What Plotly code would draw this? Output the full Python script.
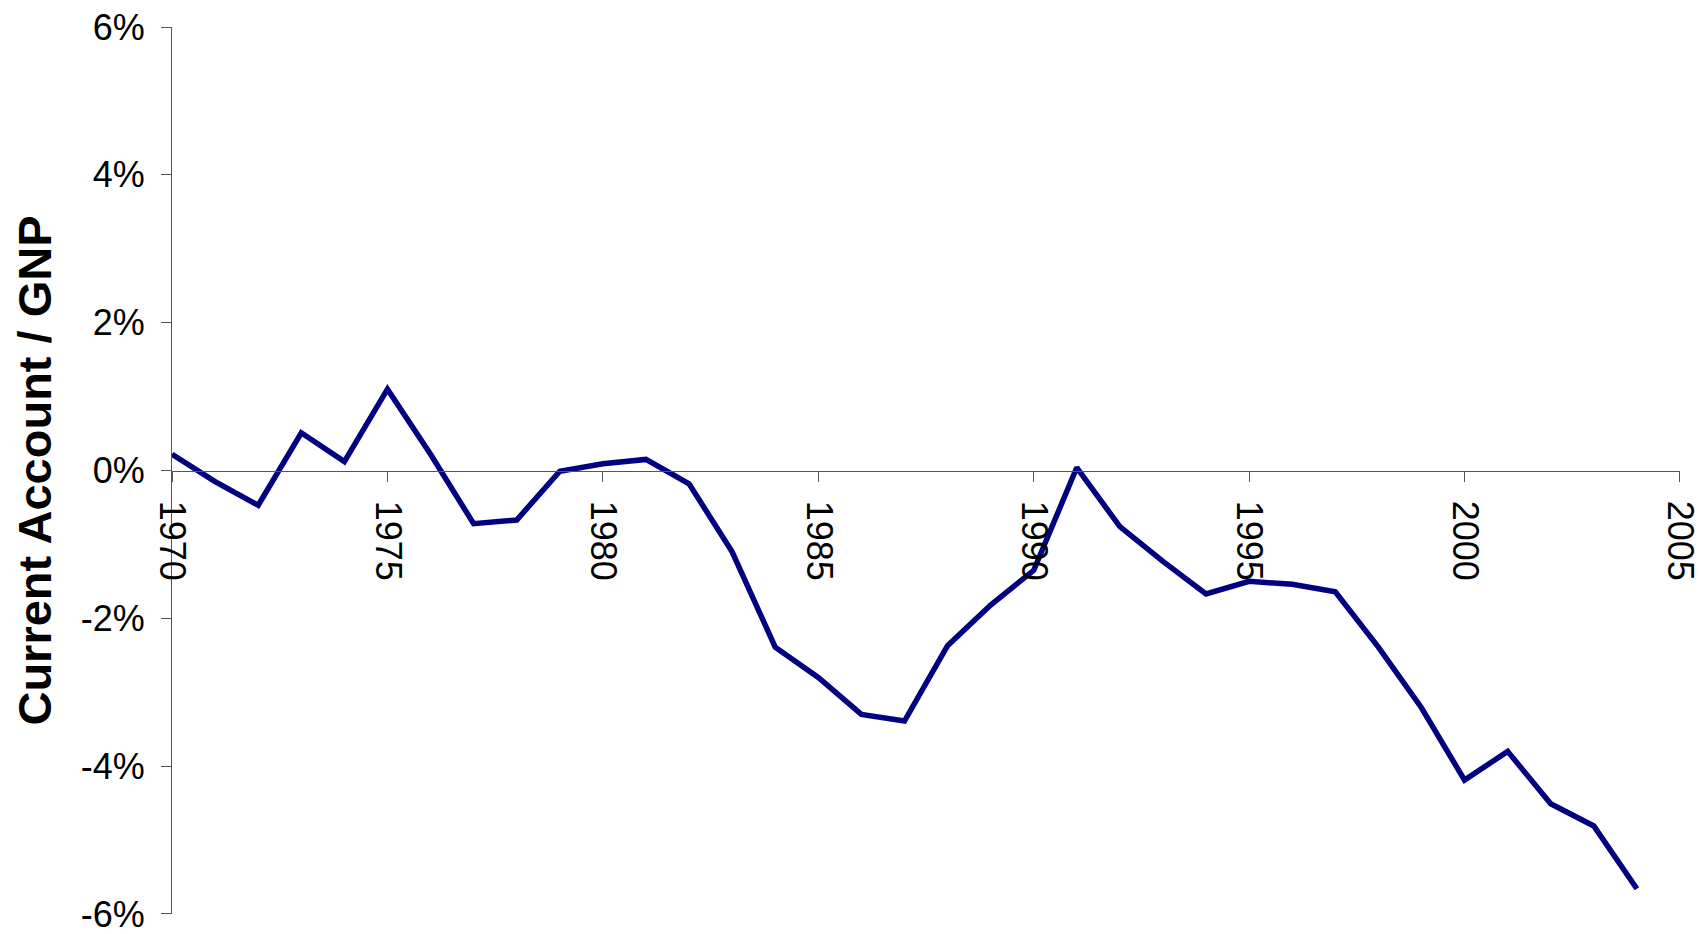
import plotly.graph_objects as go

years = list(range(1970, 2005))
ca_gnp = [0.22, -0.15, -0.47, 0.51, 0.12, 1.10, 0.22, -0.72, -0.67, -0.01,
          0.09, 0.15, -0.18, -1.10, -2.39, -2.80, -3.30, -3.39, -2.37, -1.82,
          -1.35, 0.04, -0.76, -1.23, -1.67, -1.50, -1.54, -1.64, -2.39, -3.21,
          -4.19, -3.80, -4.51, -4.81, -5.66]

y_tickvals = [-6, -4, -2, 0, 2, 4, 6]
y_ticktext = ["-6%", "-4%", "-2%", "0%", "2%", "4%", "6%"]
x_tickvals = [1970, 1975, 1980, 1985, 1990, 1995, 2000, 2005]

fig = go.Figure()
fig.add_trace(go.Scatter(
    x=years, y=ca_gnp, mode="lines",
    line=dict(color="#000080", width=5.5),
    showlegend=False,
))

axis_color = "#555555"
fig.update_layout(
    width=1700, height=934,
    margin=dict(l=172, r=20, t=27, b=20),
    paper_bgcolor="white", plot_bgcolor="white",
    font=dict(family="Liberation Sans, Arial, sans-serif", color="black"),
    xaxis=dict(
        range=[1969.999, 2005.001], tickvals=x_tickvals,
        tickangle=90, tickfont=dict(size=36),
        showgrid=False, zeroline=False,
        showline=True, linecolor=axis_color, linewidth=1,
        ticks="outside", ticklen=10, tickcolor=axis_color, tickwidth=1,
        anchor="free", position=0.5, automargin=False,
        ticklabelstandoff=12, ticklabeloverflow="allow",
    ),
    yaxis=dict(
        range=[-6.001, 6.001], tickvals=y_tickvals, ticktext=y_ticktext,
        tickfont=dict(size=36),
        showgrid=False, zeroline=False,
        showline=True, linecolor=axis_color, linewidth=1,
        ticks="outside", ticklen=10, tickcolor=axis_color, tickwidth=1,
        ticklabelstandoff=9, ticklabeloverflow="allow", automargin=False,
        title=dict(text="<b>Current Account / GNP</b>", font=dict(size=47), standoff=14),
    ),
)

fig.write_html("out.html")
